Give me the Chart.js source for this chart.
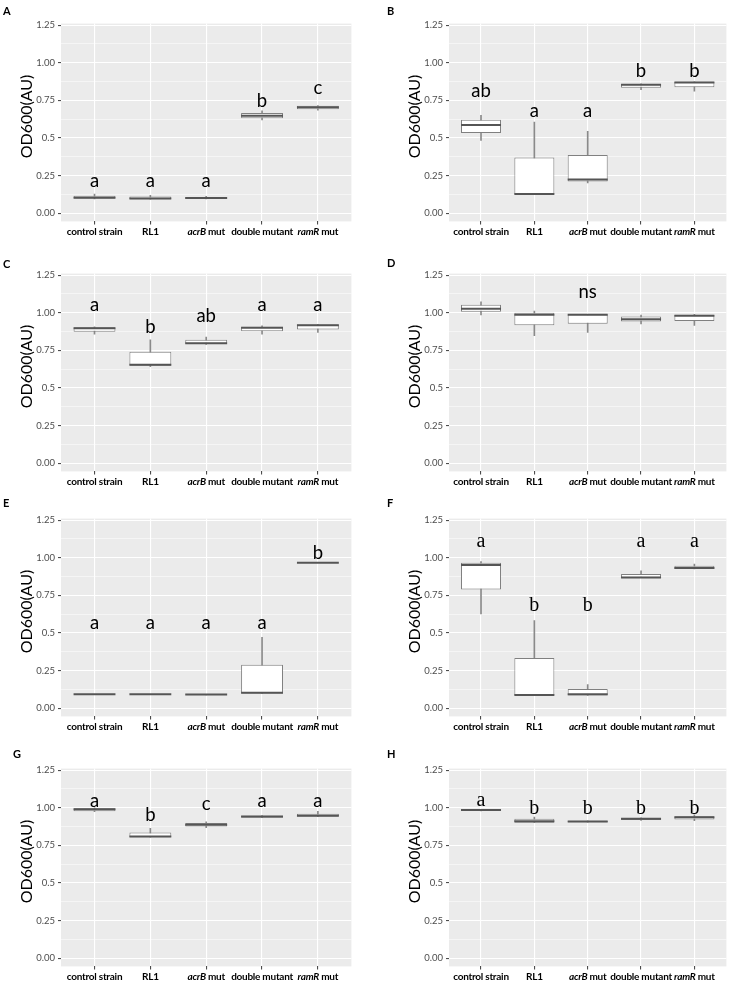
<!DOCTYPE html>
<html><head><meta charset="utf-8">
<script src="https://cdn.jsdelivr.net/npm/chart.js@4.4.1/dist/chart.umd.min.js"></script>
<style>
html,body{margin:0;padding:0;background:#fff}
body{width:750px;height:989px;position:relative;overflow:hidden;font-family:Lato,sans-serif}
.panel{position:absolute;width:375px;height:245px}
.panel canvas{position:absolute;left:0;top:0}
.tag{position:absolute;font:bold 11px Lato,sans-serif;line-height:11px;color:#000}
</style></head><body>
<script>
// ---------- shared categories / ticks ----------
const categories = ['control strain', 'RL1', 'acrB mut', 'double mutant', 'ramR mut'];
const italicParts = ['', '', 'acrB', '', 'ramR'];
const yTickValues = [0, 0.25, 0.5, 0.75, 1, 1.25];
const yTickLabels = ['0.00', '0.25', '0.5', '0.75', '1.00', '1.25'];
const yMinorValues = [0.125, 0.375, 0.625, 0.875, 1.125];
const yTitle = 'OD600(AU)';

// ---------- panel A ----------
const A_min = [0.095, 0.092, 0.094, 0.620, 0.684];
const A_q1  = [0.097, 0.092, 0.094, 0.631, 0.690];
const A_med = [0.103, 0.098, 0.100, 0.647, 0.704];
const A_q3  = [0.115, 0.110, 0.108, 0.665, 0.714];
const A_max = [0.127, 0.118, 0.112, 0.680, 0.715];
const A_letters = ['a', 'a', 'a', 'b', 'c'];
const A_letterY = [0.171, 0.171, 0.171, 0.704, 0.792];

// ---------- panel B ----------
const B_min = [0.484, 0.127, 0.200, 0.820, 0.810];
const B_q1  = [0.533, 0.127, 0.210, 0.833, 0.837];
const B_med = [0.586, 0.127, 0.224, 0.853, 0.868];
const B_q3  = [0.620, 0.370, 0.386, 0.857, 0.873];
const B_max = [0.650, 0.606, 0.543, 0.860, 0.873];
const B_letters = ['ab', 'a', 'a', 'b', 'b'];
const B_letterY = [0.769, 0.641, 0.641, 0.902, 0.902];

// ---------- panel C ----------
const C_min = [0.857, 0.641, 0.790, 0.857, 0.869];
const C_q1  = [0.873, 0.648, 0.794, 0.876, 0.888];
const C_med = [0.896, 0.654, 0.797, 0.900, 0.916];
const C_q3  = [0.904, 0.740, 0.820, 0.906, 0.922];
const C_max = [0.906, 0.819, 0.838, 0.912, 0.922];
const C_letters = ['a', 'b', 'ab', 'a', 'a'];
const C_letterY = [1.014, 0.864, 0.940, 1.014, 1.014];

// ---------- panel D ----------
const D_min = [0.986, 0.847, 0.869, 0.925, 0.916];
const D_q1  = [1.006, 0.916, 0.927, 0.941, 0.945];
const D_med = [1.027, 0.986, 0.986, 0.957, 0.980];
const D_q3  = [1.053, 1.000, 0.990, 0.975, 0.986];
const D_max = [1.073, 1.010, 0.990, 0.984, 0.990];
const D_letters = ['', '', 'ns', '', ''];
const D_letterY = [0, 0, 1.098, 0, 0];

// ---------- panel E ----------
const E_min = [0.092, 0.092, 0.088, 0.098, 0.967];
const E_q1  = [0.092, 0.092, 0.088, 0.098, 0.967];
const E_med = [0.092, 0.092, 0.090, 0.102, 0.967];
const E_q3  = [0.092, 0.092, 0.091, 0.288, 0.967];
const E_max = [0.092, 0.092, 0.091, 0.470, 0.967];
const E_letters = ['a', 'a', 'a', 'a', 'b'];
const E_letterY = [0.524, 0.524, 0.524, 0.524, 0.994];

// ---------- panel F ----------
const F_min = [0.627, 0.088, 0.084, 0.867, 0.925];
const F_q1  = [0.788, 0.088, 0.084, 0.867, 0.925];
const F_med = [0.951, 0.088, 0.092, 0.869, 0.931];
const F_q3  = [0.967, 0.333, 0.127, 0.892, 0.947];
const F_max = [0.975, 0.582, 0.157, 0.912, 0.957];
const F_letters = ['a', 'b', 'b', 'a', 'a'];
const F_letterY = [1.069, 0.647, 0.647, 1.069, 1.069];

// ---------- panel G ----------
const G_min = [0.973, 0.804, 0.867, 0.933, 0.941];
const G_q1  = [0.976, 0.804, 0.875, 0.933, 0.941];
const G_med = [0.990, 0.808, 0.886, 0.941, 0.947];
const G_q3  = [0.996, 0.835, 0.898, 0.947, 0.960];
const G_max = [1.000, 0.863, 0.906, 0.947, 0.976];
const G_letters = ['a', 'b', 'c', 'a', 'a'];
const G_letterY = [1.006, 0.914, 0.986, 1.006, 1.006];

// ---------- panel H ----------
const H_min = [0.978, 0.900, 0.904, 0.916, 0.914];
const H_q1  = [0.978, 0.900, 0.904, 0.918, 0.922];
const H_med = [0.984, 0.910, 0.908, 0.927, 0.937];
const H_q3  = [0.988, 0.927, 0.912, 0.931, 0.943];
const H_max = [0.988, 0.937, 0.912, 0.933, 0.953];
const H_letters = ['a', 'b', 'b', 'b', 'b'];
const H_letterY = [1.012, 0.960, 0.960, 0.960, 0.960];

// ---------- layout ----------
const panels = [
  {tag:'A', left:0,   top:0,   tagX:3,   tagY:5, yw:61, pr:14, min:A_min, q1:A_q1, med:A_med, q3:A_q3, max:A_max, letters:A_letters, letterY:A_letterY, serif:false},
  {tag:'B', left:375, top:0,   tagX:387, tagY:5, yw:74, pr:1,  min:B_min, q1:B_q1, med:B_med, q3:B_q3, max:B_max, letters:B_letters, letterY:B_letterY, serif:false},
  {tag:'C', left:0,   top:250, tagX:3,   tagY:258, yw:61, pr:14, min:C_min, q1:C_q1, med:C_med, q3:C_q3, max:C_max, letters:C_letters, letterY:C_letterY, serif:false},
  {tag:'D', left:375, top:250, tagX:387, tagY:257, yw:74, pr:1,  min:D_min, q1:D_q1, med:D_med, q3:D_q3, max:D_max, letters:D_letters, letterY:D_letterY, serif:false},
  {tag:'E', left:0,   top:495, tagX:3,   tagY:497, yw:61, pr:14, min:E_min, q1:E_q1, med:E_med, q3:E_q3, max:E_max, letters:E_letters, letterY:E_letterY, serif:false},
  {tag:'F', left:375, top:495, tagX:387, tagY:497, yw:74, pr:1,  min:F_min, q1:F_q1, med:F_med, q3:F_q3, max:F_max, letters:F_letters, letterY:F_letterY, serif:true},
  {tag:'G', left:0,   top:745, tagX:13,  tagY:748, yw:61, pr:14, min:G_min, q1:G_q1, med:G_med, q3:G_q3, max:G_max, letters:G_letters, letterY:G_letterY, serif:false},
  {tag:'H', left:375, top:745, tagX:387, tagY:748, yw:74, pr:1,  min:H_min, q1:H_q1, med:H_med, q3:H_q3, max:H_max, letters:H_letters, letterY:H_letterY, serif:true}
];

const CANVAS_H = 245;
const AREA_BOTTOM = 228.5;
const isMajor = v => Math.abs(v * 4 - Math.round(v * 4)) < 1e-6;
const allYTicks = yTickValues.concat(yMinorValues).sort((a, b) => a - b);
const xPositions = categories.map((c, i) => i + 1);

const bgPlugin = {
  id: 'panelBg',
  beforeDraw(chart) {
    const {ctx, chartArea: a} = chart;
    ctx.save();
    ctx.fillStyle = '#EBEBEB';
    ctx.fillRect(a.left, a.top, a.right - a.left, a.bottom - a.top);
    ctx.restore();
  }
};

const textPlugin = {
  id: 'panelText',
  afterDatasetsDraw(chart, args, opts) {
    const p = opts.panel;
    const {ctx, scales: {x, y}} = chart;
    ctx.save();
    ctx.fillStyle = '#000';
    ctx.textAlign = 'center';
    ctx.textBaseline = 'alphabetic';
    ctx.font = p.serif ? '20px "Liberation Serif", serif' : '18.5px Lato, sans-serif';
    p.letters.forEach((L, i) => {
      if (!L) return;
      ctx.fillText(L, x.getPixelForValue(xPositions[i]), y.getPixelForValue(p.letterY[i]));
    });
    ctx.restore();
  },
  afterDraw(chart) {
    const {ctx, chartArea: a, scales: {x}} = chart;
    ctx.save();
    ctx.fillStyle = '#000';
    ctx.textBaseline = 'middle';
    ctx.textAlign = 'left';
    if ('letterSpacing' in ctx) ctx.letterSpacing = '-0.25px';
    const fb = 'bold 10px Lato, sans-serif';
    const fi = 'italic bold 10px Lato, sans-serif';
    const ly = a.bottom + 10;
    categories.forEach((lab, i) => {
      const it = italicParts[i];
      const rest = it ? lab.slice(it.length) : lab;
      ctx.font = fi; const w1 = it ? ctx.measureText(it).width : 0;
      ctx.font = fb; const w2 = ctx.measureText(rest).width;
      let cx = x.getPixelForValue(xPositions[i]) - (w1 + w2) / 2;
      if (it) { ctx.font = fi; ctx.fillText(it, cx, ly); cx += w1; }
      ctx.font = fb; ctx.fillText(rest, cx, ly);
    });
    if ('letterSpacing' in ctx) ctx.letterSpacing = '0px';
    ctx.translate(a.left - 34, (a.top + a.bottom) / 2 - 6);
    ctx.rotate(-Math.PI / 2);
    ctx.textAlign = 'center';
    ctx.font = '16px Lato, sans-serif';
    ctx.fillText(yTitle, 0, 0);
    ctx.restore();
  }
};

function halfBox(ctx) {
  const s = ctx.chart.scales && ctx.chart.scales.x;
  if (!s || !s.width) return 21.6;
  return Math.abs(s.getPixelForValue(2) - s.getPixelForValue(1)) * 0.75 / 2;
}

panels.forEach(p => {
  const div = document.createElement('div');
  div.className = 'panel';
  div.style.left = p.left + 'px';
  div.style.top = p.top + 'px';
  const cv = document.createElement('canvas');
  cv.width = 375; cv.height = CANVAS_H;
  cv.style.width = '375px'; cv.style.height = CANVAS_H + 'px';
  div.appendChild(cv);
  document.body.appendChild(div);
  const tag = document.createElement('div');
  tag.className = 'tag';
  tag.textContent = p.tag;
  tag.style.left = p.tagX + 'px';
  tag.style.top = p.tagY + 'px';
  document.body.appendChild(tag);

  new Chart(cv, {
    data: {
      datasets: [
        { type: 'line', label: 'median', order: 0,
          data: xPositions.map((xv, i) => ({x: xv, y: p.med[i]})),
          showLine: false, pointStyle: 'line', pointRotation: 0,
          pointRadius: halfBox, pointHoverRadius: halfBox,
          pointBorderColor: '#555555', pointBorderWidth: 2, pointBackgroundColor: '#555555' },
        { type: 'bar', label: 'box', order: 1, grouped: false,
          data: xPositions.map((xv, i) => ({x: xv, y: [p.q1[i], p.q3[i]]})),
          backgroundColor: '#ffffff', borderColor: '#808080', borderWidth: 1, borderSkipped: false,
          barPercentage: 0.75, categoryPercentage: 1 },
        { type: 'bar', label: 'whisker', order: 2, grouped: false,
          data: xPositions.map((xv, i) => ({x: xv, y: [p.min[i], p.max[i]]})),
          backgroundColor: '#8a8a8a', borderWidth: 0, barThickness: 1 }
      ]
    },
    options: {
      responsive: false, animation: false, devicePixelRatio: 1,
      events: [],
      layout: { padding: { top: 5, right: p.pr, left: 0, bottom: 0 } },
      plugins: { legend: { display: false }, tooltip: { enabled: false }, panelText: { panel: p } },
      scales: {
        x: {
          type: 'linear', min: 0.4, max: 5.6, offset: false,
          afterBuildTicks: s => { s.ticks = xPositions.map(v => ({value: v})); },
          afterFit: s => { s.height = CANVAS_H - AREA_BOTTOM; },
          ticks: { display: false },
          grid: { color: '#ffffff', lineWidth: 1.1, drawTicks: true, tickLength: 3, tickColor: '#4d4d4d', offset: false },
          border: { display: false }
        },
        y: {
          type: 'linear', min: -0.055, max: 1.26,
          afterBuildTicks: s => { s.ticks = allYTicks.map(v => ({value: v})); },
          afterFit: s => { s.width = p.yw; },
          ticks: {
            autoSkip: false, padding: 3, color: '#4d4d4d',
            font: { family: 'Lato', size: 9.5 },
            callback: v => { const k = yTickValues.findIndex(t => Math.abs(t - v) < 1e-6); return k >= 0 ? yTickLabels[k] : ''; }
          },
          grid: {
            color: '#ffffff',
            lineWidth: c => (c.tick && isMajor(c.tick.value)) ? 1.1 : 0.5,
            tickColor: c => (c.tick && isMajor(c.tick.value)) ? '#4d4d4d' : 'rgba(0,0,0,0)',
            tickLength: 3
          },
          border: { display: false }
        }
      }
    },
    plugins: [bgPlugin, textPlugin]
  });
});
</script>
</body></html>
